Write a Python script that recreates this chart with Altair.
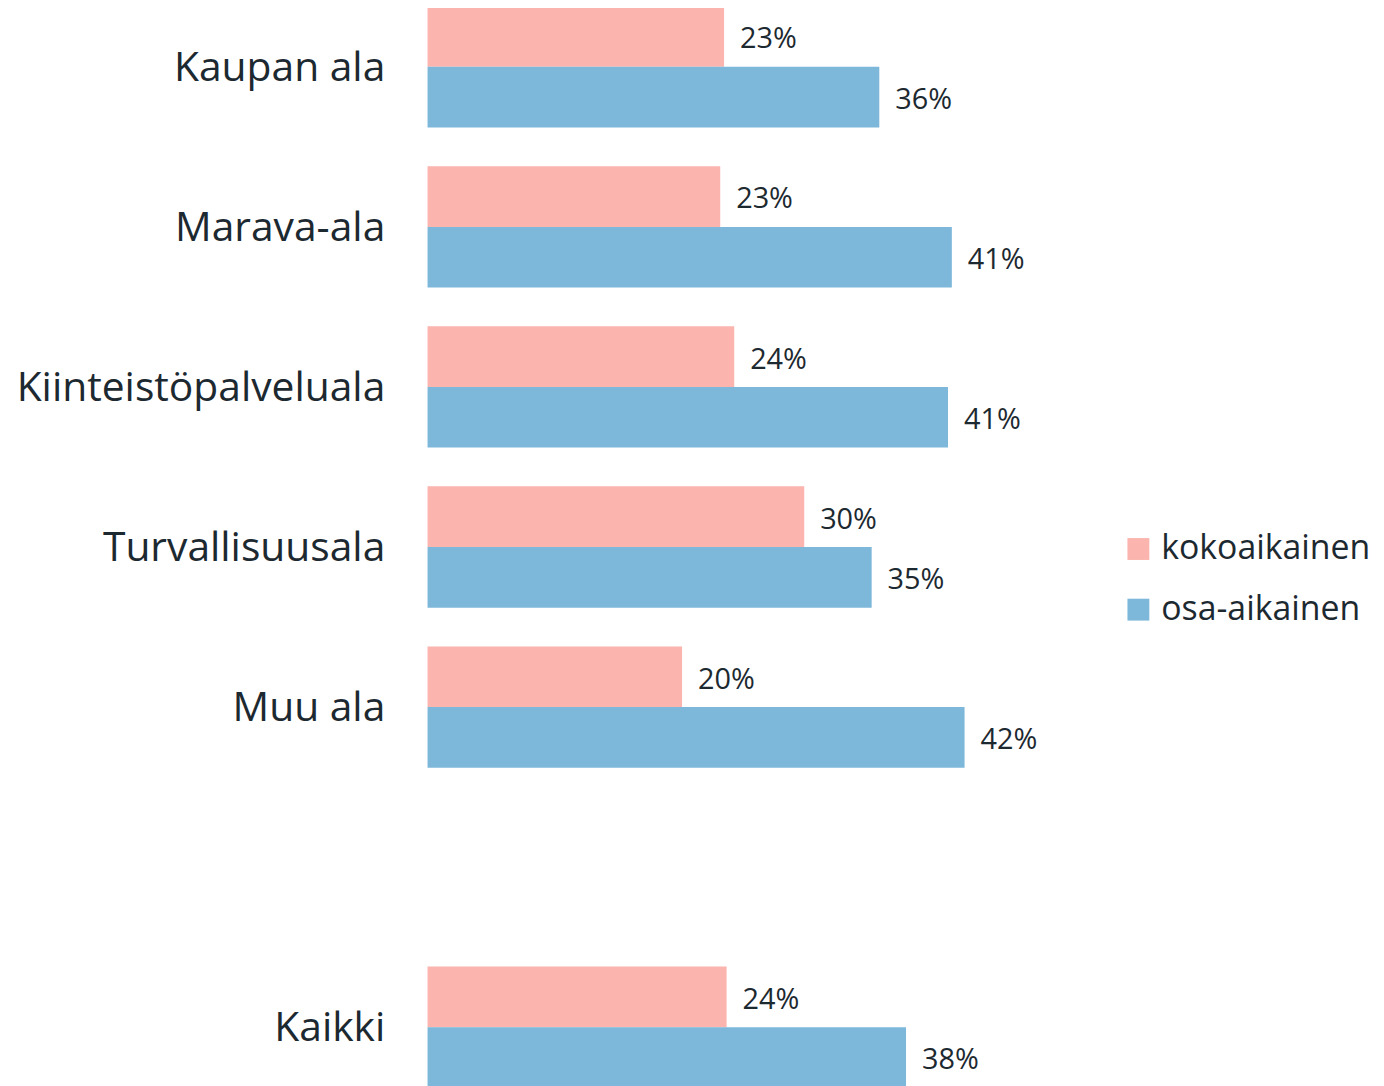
import altair as alt
import pandas as pd

categories = ["Kaupan ala", "Marava-ala", "Kiinteistöpalveluala", "Turvallisuusala", "Muu ala", "Kaikki"]
series = ["kokoaikainen", "osa-aikainen"]
kokoaikainen = [23.3, 23.0, 24.1, 29.6, 20.0, 23.5]
osa_aikainen = [35.5, 41.2, 40.9, 34.9, 42.2, 37.6]
colors = ["#FBB4AE", "#7DB7DA"]
y_domain = ["Kaupan ala", "Marava-ala", "Kiinteistöpalveluala", "Turvallisuusala", "Muu ala", " ", "Kaikki"]

rows = []
for c, k, o in zip(categories, kokoaikainen, osa_aikainen):
    rows.append({"ala": c, "tyyppi": series[0], "arvo": k})
    rows.append({"ala": c, "tyyppi": series[1], "arvo": o})
df = pd.DataFrame(rows)
df["label"] = [f"{int(v + 0.5)}%" for v in df["arvo"]]

FONT = "Open Sans"
TXT = "#1d2930"

y = alt.Y("ala:N", sort=y_domain,
          scale=alt.Scale(domain=y_domain, paddingInner=0.242, paddingOuter=0),
          axis=alt.Axis(title=None, domain=False, ticks=False, labelPadding=43, labelOffset=2,
                        labelFontSize=41, labelColor=TXT, labelFont=FONT, labelLimit=600))
yoff = alt.YOffset("tyyppi:N", sort=series,
                   scale=alt.Scale(domain=series, paddingInner=0, paddingOuter=0))
x = alt.X("arvo:Q", scale=alt.Scale(domain=[0, 50]), axis=None)

bars = alt.Chart(df).mark_bar().encode(
    x=x, y=y, yOffset=yoff,
    color=alt.Color("tyyppi:N", sort=series,
                    scale=alt.Scale(domain=series, range=colors),
                    legend=alt.Legend(title=None, orient="none", legendX=698, legendY=529,
                                      symbolType="square", symbolSize=484, symbolStrokeWidth=0,
                                      labelFontSize=34, labelFont=FONT, labelColor=TXT,
                                      labelOffset=6, rowPadding=27, padding=0, labelLimit=600)),
)

labels = alt.Chart(df).mark_text(align="left", baseline="middle", dx=16, dy=3,
                                 fontSize=29, font=FONT, color=TXT).encode(
    x=x, y=y, yOffset=yoff, text="label:N"
)

chart = (bars + labels).properties(
    width=640, height=1088,
    autosize=alt.AutoSizeParams(type="none"),
    padding={"left": 422, "top": -5, "right": 314, "bottom": 0},
).configure_view(stroke=None)

chart.save("out.html", embed_options={"renderer": "svg", "actions": False})
